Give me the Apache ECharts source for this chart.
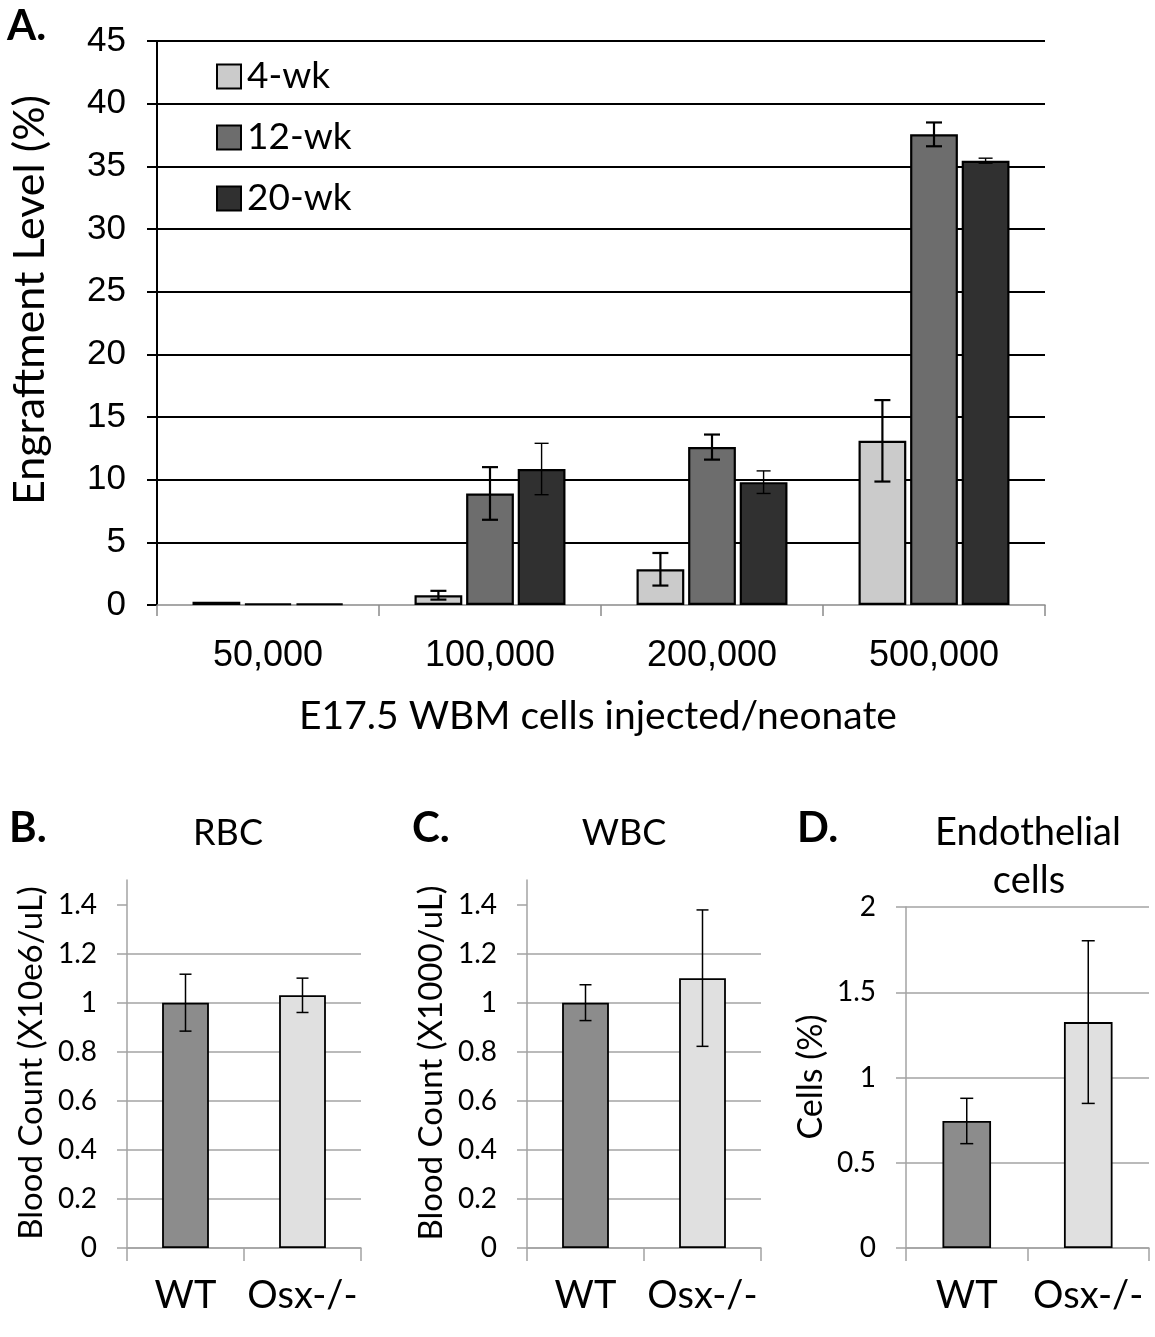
<!DOCTYPE html>
<html><head><meta charset="utf-8">
<script src="https://cdn.jsdelivr.net/npm/echarts@6/dist/echarts.min.js"></script>
<style>html,body{margin:0;padding:0;background:#fff}#c{width:1155px;height:1337px}</style>
</head><body><div id="c"></div>
<script>
// ---- Panel A data ----
const doseCategories = ['50,000', '100,000', '200,000', '500,000'];
const seriesNames = ['4-wk', '12-wk', '20-wk'];
const wk4 = [0.25, 0.78, 2.85, 13.1];
const wk4Err = [0, 0.35, 1.3, 3.25];
const wk12 = [0.12, 8.9, 12.6, 37.55];
const wk12Err = [0, 2.1, 1.0, 0.95];
const wk20 = [0.12, 10.85, 9.8, 35.45];
const wk20Err = [0, 2.05, 0.9, 0.2];
const engraftTicks = [0, 5, 10, 15, 20, 25, 30, 35, 40, 45];

// ---- Panels B-D data ----
const groups = ['WT', 'Osx-/-'];
const rbc = [1.0, 1.03];
const rbcErr = [0.116, 0.07];
const wbc = [1.0, 1.10];
const wbcErr = [0.073, 0.278];
const endo = [0.745, 1.325];
const endoErr = [0.133, 0.477];
const bloodTicks = [0, 0.2, 0.4, 0.6, 0.8, 1, 1.2, 1.4];
const endoTicks = [0, 0.5, 1, 1.5, 2];

const CAL = 'Lato';
const ARIAL = '"Liberation Sans", Arial';
const aColors = ['#cbcbcb', '#6d6d6d', '#303030'];
const bColors = ['#8c8c8c', '#e0e0e0'];
const gridGray = '#a3a3a3';

function errSeries(xi, yi, vals, errs, idx, n, gapCat, gapBar, lw, capW) {
  return {
    type: 'custom', xAxisIndex: xi, yAxisIndex: yi, z: 10, silent: true,
    data: vals.map((v, i) => [i, v - errs[i], v + errs[i], errs[i]]),
    renderItem(params, api) {
      if (api.value(3) <= 0) return null;
      const cat = api.value(0), lo = api.value(1), hi = api.value(2);
      const cw = api.size([1, 0])[0];
      const bw = cw * (1 - gapCat) / (n + (n - 1) * gapBar);
      const off = (idx - (n - 1) / 2) * bw * (1 + gapBar);
      const p1 = api.coord([cat, lo]), p2 = api.coord([cat, hi]);
      const x = p1[0] + off;
      const st = { stroke: '#000', lineWidth: lw };
      return { type: 'group', children: [
        { type: 'line', shape: { x1: x, y1: p1[1], x2: x, y2: p2[1] }, style: st },
        { type: 'line', shape: { x1: x - capW / 2, y1: p1[1], x2: x + capW / 2, y2: p1[1] }, style: st },
        { type: 'line', shape: { x1: x - capW / 2, y1: p2[1], x2: x + capW / 2, y2: p2[1] }, style: st }
      ]};
    }
  };
}

function smallY(gi, max, interval, ticks) {
  const top = ticks[ticks.length - 1];
  return {
    gridIndex: gi, type: 'value', min: 0, max: max, interval: interval,
    axisLine: { show: true, lineStyle: { color: gridGray, width: 1.5 } },
    axisTick: { show: true, length: 10, lineStyle: { color: gridGray, width: 1.5 }, customValues: ticks },
    axisLabel: { fontFamily: CAL, fontSize: 28, color: '#000', margin: 30, customValues: ticks,
      formatter: v => (v > top + 1e-9 ? '' : String(v)) },
    splitLine: { show: true, showMaxLine: max === top, lineStyle: { color: gridGray, width: 1.5 } }
  };
}
function smallX(gi) {
  return {
    gridIndex: gi, type: 'category', data: groups,
    axisLine: { show: true, lineStyle: { color: gridGray, width: 1.5 } },
    axisTick: { show: true, length: 13, lineStyle: { color: gridGray, width: 1.5 } },
    axisLabel: { fontFamily: CAL, fontSize: 38, color: '#000', margin: 29, interval: 0, hideOverlap: false }
  };
}
function smallBar(gi, vals) {
  return {
    type: 'bar', xAxisIndex: gi, yAxisIndex: gi, barCategoryGap: '60%',
    data: vals.map((v, i) => ({ value: v, itemStyle: { color: bColors[i] } })),
    itemStyle: { borderColor: '#000', borderWidth: 1.8 }
  };
}
function txt(text, x, y, font, align, rot) {
  return { type: 'text', x: x, y: y, rotation: rot || 0, silent: true,
    style: { text: text, font: font, fill: '#000', align: align || 'center', verticalAlign: 'middle',
      textAlign: align || 'center', textVerticalAlign: 'middle' } };
}

const chart = echarts.init(document.getElementById('c'), null, { renderer: 'canvas' });
const aBarData = [wk4, wk12, wk20];
const option = {
  animation: false,
  backgroundColor: '#fff',
  grid: [
    { left: 157, top: 41, width: 888, height: 564 },
    { left: 127, top: 880, width: 234, height: 368 },
    { left: 527, top: 880, width: 234, height: 368 },
    { left: 906, top: 907, width: 243, height: 341 }
  ],
  legend: {
    data: seriesNames, orient: 'vertical', left: 211, top: 53, itemWidth: 24, itemHeight: 24, itemGap: 24,
    icon: 'rect', selectedMode: false,
    textStyle: { fontFamily: CAL, fontSize: 37, color: '#000', padding: [0, 0, 0, 1] }
  },
  xAxis: [
    { gridIndex: 0, type: 'category', data: doseCategories,
      axisLine: { show: true, lineStyle: { color: '#8a8a8a', width: 1.5 } },
      axisTick: { show: true, length: 11, lineStyle: { color: '#8a8a8a', width: 1.5 } },
      axisLabel: { fontFamily: ARIAL, fontSize: 36, color: '#000', margin: 33, interval: 0 } },
    smallX(1), smallX(2), smallX(3)
  ],
  yAxis: [
    { gridIndex: 0, type: 'value', min: 0, max: 45, interval: 5,
      axisLine: { show: true, lineStyle: { color: '#000', width: 2 } },
      axisTick: { show: true, length: 10, lineStyle: { color: '#000', width: 2 } },
      axisLabel: { fontFamily: ARIAL, fontSize: 35, color: '#000', margin: 31, customValues: engraftTicks },
      splitLine: { show: true, showMinLine: false, lineStyle: { color: '#000', width: 2 } } },
    smallY(1, 1.5, 0.2, bloodTicks),
    smallY(2, 1.5, 0.2, bloodTicks),
    smallY(3, 2, 0.5, endoTicks)
  ],
  series: [
    ...seriesNames.map((nm, k) => ({
      name: nm, type: 'bar', xAxisIndex: 0, yAxisIndex: 0, barCategoryGap: '32%', barGap: '8%',
      data: aBarData[k], itemStyle: { color: aColors[k], borderColor: '#000', borderWidth: 2.2 }
    })),
    errSeries(0, 0, wk4, wk4Err, 0, 3, 0.32, 0.08, 2.2, 16),
    errSeries(0, 0, wk12, wk12Err, 1, 3, 0.32, 0.08, 2.2, 16),
    errSeries(0, 0, wk20, wk20Err, 2, 3, 0.32, 0.08, 1.4, 14),
    smallBar(1, rbc), smallBar(2, wbc), smallBar(3, endo),
    errSeries(1, 1, rbc, rbcErr, 0, 1, 0.6, 0, 1.5, 12),
    errSeries(2, 2, wbc, wbcErr, 0, 1, 0.6, 0, 1.5, 12),
    errSeries(3, 3, endo, endoErr, 0, 1, 0.6, 0, 1.5, 13)
  ],
  graphic: [
    txt('A.', 7, 26, 'bold 42px Lato', 'left'),
    txt('Engraftment Level (%)', 30, 300, '43px Lato', 'center', Math.PI / 2),
    txt('E17.5 WBM cells injected/neonate', 598, 716, '39px Lato', 'center'),
    txt('B.', 9, 828, 'bold 42px Lato', 'left'),
    txt('C.', 412, 828, 'bold 42px Lato', 'left'),
    txt('D.', 797, 828, 'bold 42px Lato', 'left'),
    txt('RBC', 228, 833, '36px Lato', 'center'),
    txt('WBC', 624, 833, '36px Lato', 'center'),
    txt('Endothelial', 1028, 833, '38px Lato', 'center'),
    txt('cells', 1029, 881, '38px Lato', 'center'),
    txt('Blood Count (X10e6/uL)', 31, 1063, '33px Lato', 'center', Math.PI / 2),
    txt('Blood Count (X1000/uL)', 431, 1063, '33px Lato', 'center', Math.PI / 2),
    txt('Cells (%)', 811, 1077, '34px Lato', 'center', Math.PI / 2)
  ]
};
chart.setOption(option);
</script></body></html>
